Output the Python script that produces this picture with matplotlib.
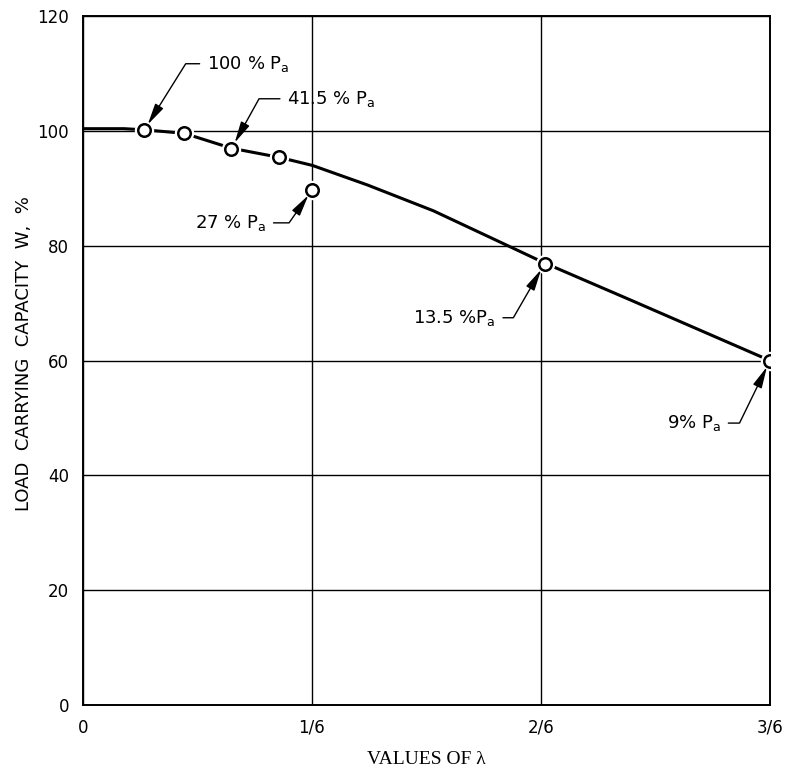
import numpy as np
import matplotlib
matplotlib.use("Agg")
import matplotlib.pyplot as plt

# smooth curve through the test points
curve_x = [0.0, 0.03, 0.0445, 0.0736, 0.108, 0.143, 0.167, 0.207, 0.255, 0.304, 0.336, 0.40, 0.45, 0.5]
curve_y = [100.4, 100.4, 100.2, 99.6, 97.0, 95.4, 94.0, 90.6, 86.1, 80.6, 77.0, 70.4, 65.2, 60.0]

# measured points (open circles)
pt_x = [0.0445, 0.0736, 0.108, 0.143, 0.167, 0.336, 0.5]
pt_y = [100.1, 99.6, 96.9, 95.4, 89.8, 76.9, 60.0]

# labelled points: (index into pt_*, label)
labels = [
    (0, "100 % $\\mathrm{P_a}$"),
    (2, "41.5 % $\\mathrm{P_a}$"),
    (4, "27 % $\\mathrm{P_a}$"),
    (5, "13.5 %$\\mathrm{P_a}$"),
    (6, "9% $\\mathrm{P_a}$"),
]
# text offset (points), leader angle (deg), alignment
label_style = [
    ((45, 48), 58, "left"),
    ((40, 36), 61, "left"),
    ((-33, -24), 55, "right"),
    ((-35, -39), 60, "right"),
    ((-35, -45), 64, "right"),
]

x_ticks = [0, 1/6, 2/6, 3/6]
x_ticklabels = ["0", "1/6", "2/6", "3/6"]
y_ticks = [0, 20, 40, 60, 80, 100, 120]

fig = plt.figure(figsize=(8.05, 7.7), dpi=100)
ax = fig.add_axes([0.103, 0.0844, 0.8535, 0.8946])

ax.plot(curve_x, curve_y, color="black", lw=2.2, zorder=3)
# white halo then open circle
ax.plot(pt_x, pt_y, "o", ms=13, mfc="white", mec="white", zorder=4)
ax.plot(pt_x, pt_y, "o", ms=9, mfc="white", mec="black", mew=1.8, zorder=5)

for (i, txt), (off, ang, ha) in zip(labels, label_style):
    rel = (0, 0.5) if ha == "left" else (1, 0.5)
    ax.annotate(txt, xy=(pt_x[i], pt_y[i]), xytext=off, textcoords="offset points",
                ha=ha, va="center", fontsize=13, zorder=6,
                arrowprops=dict(arrowstyle="-|>,head_length=1.0,head_width=0.22",
                                mutation_scale=13, color="black", lw=1.0,
                                connectionstyle=f"angle,angleA=0,angleB={ang},rad=0",
                                relpos=rel, shrinkA=3, shrinkB=5))

ax.set_xlim(0, 0.5)
ax.set_ylim(0, 120)
ax.set_xticks(x_ticks)
ax.set_xticklabels(x_ticklabels)
ax.set_yticks(y_ticks)
ax.tick_params(length=0, labelsize=12, pad=10)
ax.grid(True, color="black", lw=1.0)
ax.set_axisbelow(True)
for s in ax.spines.values():
    s.set_linewidth(1.4)

ax.set_xlabel("VALUES OF λ", fontsize=14, family="Liberation Serif", labelpad=10)
ax.set_ylabel("LOAD  CARRYING  CAPACITY  W,  %", fontsize=13)
ax.yaxis.set_label_coords(-0.073, 0.51)

fig.savefig("out.png", dpi=100)
